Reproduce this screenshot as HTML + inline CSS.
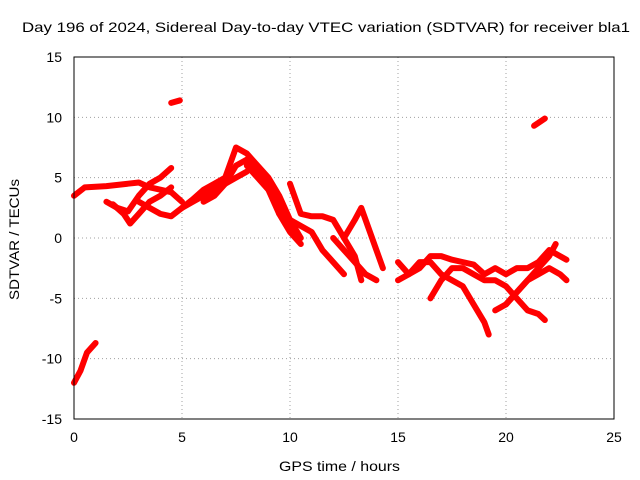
<!DOCTYPE html>
<html><head><meta charset="utf-8"><style>
body{margin:0;background:#fff}
svg{display:block;font-family:"Liberation Sans",sans-serif}
</style></head><body>
<svg id="chart" width="640" height="480" viewBox="0 0 640 480">
<rect width="640" height="480" fill="#fff"/>
<text x="22" y="32" font-size="14" textLength="608" lengthAdjust="spacingAndGlyphs">Day 196 of 2024, Sidereal Day-to-day VTEC variation (SDTVAR) for receiver bla1</text>
<text x="279" y="471" font-size="14" textLength="121" lengthAdjust="spacingAndGlyphs">GPS time / hours</text>
<text transform="translate(19,300) rotate(-90)" font-size="14" textLength="121" lengthAdjust="spacingAndGlyphs">SDTVAR / TECUs</text>
<g id="grid"></g><g id="ticks"></g><g id="series"></g>
<rect x="74" y="57" width="540" height="362" fill="none" stroke="#000"/>
</svg>
<script>
const xTicks=[0,5,10,15,20,25];
const yTicks=[-15,-10,-5,0,5,10,15];
const tracks=[
[[0,-12],[0.3,-11],[0.6,-9.5],[1.0,-8.7]],
[[0,3.5],[0.5,4.2],[1.5,4.3],[2.5,4.5],[3,4.6],[3.5,4.2],[4,4.0],[4.5,3.8],[5,3.0]],
[[1.5,3.0],[2,2.5],[2.5,2.2],[3,3.5],[3.5,4.5],[4,5],[4.5,5.8]],
[[1.8,2.8],[2.3,2.0],[2.6,1.2],[3,2.0],[3.5,3.0],[4,3.5],[4.5,4.2]],
[[3,3],[3.5,2.5],[4,2],[4.5,1.8],[5,2.5],[5.5,3],[6,3.5],[6.5,4],[7,4.5],[7.5,5],[8,5.5]],
[[4.5,11.2],[4.9,11.4]],
[[5,2.5],[5.5,3.2],[6,4],[6.5,4.5],[7,5],[7.5,7.5],[8,7],[8.5,6],[9,5],[9.5,3.5],[10,1.5],[10.5,0]],
[[6,3],[6.5,3.5],[7,4.5],[7.5,6],[8,6.5],[8.5,5.5],[9,4.5],[9.5,3],[10,1],[10.3,0]],
[[8,6],[8.5,5],[9,4],[9.5,2],[10,0.5],[10.5,-0.5]],
[[9.5,2],[10,1.5],[11,0.5],[11.5,-1],[12,-2],[12.5,-3]],
[[10,4.5],[10.5,2],[11,1.8],[11.5,1.8],[12,1.5],[12.5,0],[13,-1.5],[13.3,-3.5]],
[[12.5,0],[13,1.5],[13.3,2.5],[13.6,1],[14,-1],[14.3,-2.5]],
[[12,0],[12.5,-1],[13,-2],[13.5,-3],[14,-3.5]],
[[15,-2],[15.5,-3],[16,-2.5],[16.5,-1.5],[17,-1.5],[17.5,-1.8],[18,-2],[18.5,-2.2],[19,-3],[19.5,-2.5],[20,-3],[20.5,-2.5],[21,-2.5],[21.5,-2],[22,-1],[22.5,-1.5],[22.8,-1.8]],
[[15,-3.5],[15.5,-3],[16,-2],[16.5,-2],[17,-3],[17.5,-3.5],[18,-4],[18.5,-5.5],[19,-7],[19.2,-8]],
[[16.5,-5],[17,-3.5],[17.5,-2.5],[18,-2.5],[18.5,-3],[19,-3.5],[19.5,-3.5],[20,-4],[20.5,-5],[21,-6],[21.5,-6.3],[21.8,-6.8]],
[[19.5,-6],[20,-5.5],[20.5,-4.5],[21,-3.5],[21.5,-3],[22,-2.5],[22.5,-3],[22.8,-3.5]],
[[21.3,9.3],[21.8,9.9]],
[[20,-5.5],[20.5,-4.5],[21,-3.5],[21.5,-2.5],[22,-1.5],[22.3,-0.5]]
];
const NS="http://www.w3.org/2000/svg";
const X=v=>74+v*540/25, Y=v=>238-v*362/30;
const grid=document.getElementById('grid'),ticks=document.getElementById('ticks'),ser=document.getElementById('series');
function mk(t,a,p){const e=document.createElementNS(NS,t);for(const k in a)e.setAttribute(k,a[k]);p.appendChild(e);return e;}
xTicks.forEach(v=>{
 if(v>0&&v<25){const g=mk('line',{x1:X(v),x2:X(v),y1:57,y2:419,stroke:'#a0a0a0','stroke-dasharray':'1,3'},grid);
 
 }
 const t=mk('text',{x:X(v),y:442,'font-size':14,'text-anchor':'middle'},ticks);t.textContent=v;
 
 
});
yTicks.forEach(v=>{
 if(v>-15&&v<15){const g=mk('line',{x1:74,x2:614,y1:Y(v),y2:Y(v),stroke:'#a0a0a0','stroke-dasharray':'1,3'},grid);
 
 }
 const t=mk('text',{x:62,y:Y(v)+5,'font-size':14,'text-anchor':'end'},ticks);t.textContent=v;
 
 
});
tracks.forEach(tr=>{
 const p=mk('polyline',{points:tr.map(d=>X(d[0])+','+Y(d[1])).join(' '),fill:'none',stroke:'#ff0000','stroke-width':6,'stroke-linejoin':'round','stroke-linecap':'round'},ser);
 
 
});
</script>
</body></html>
